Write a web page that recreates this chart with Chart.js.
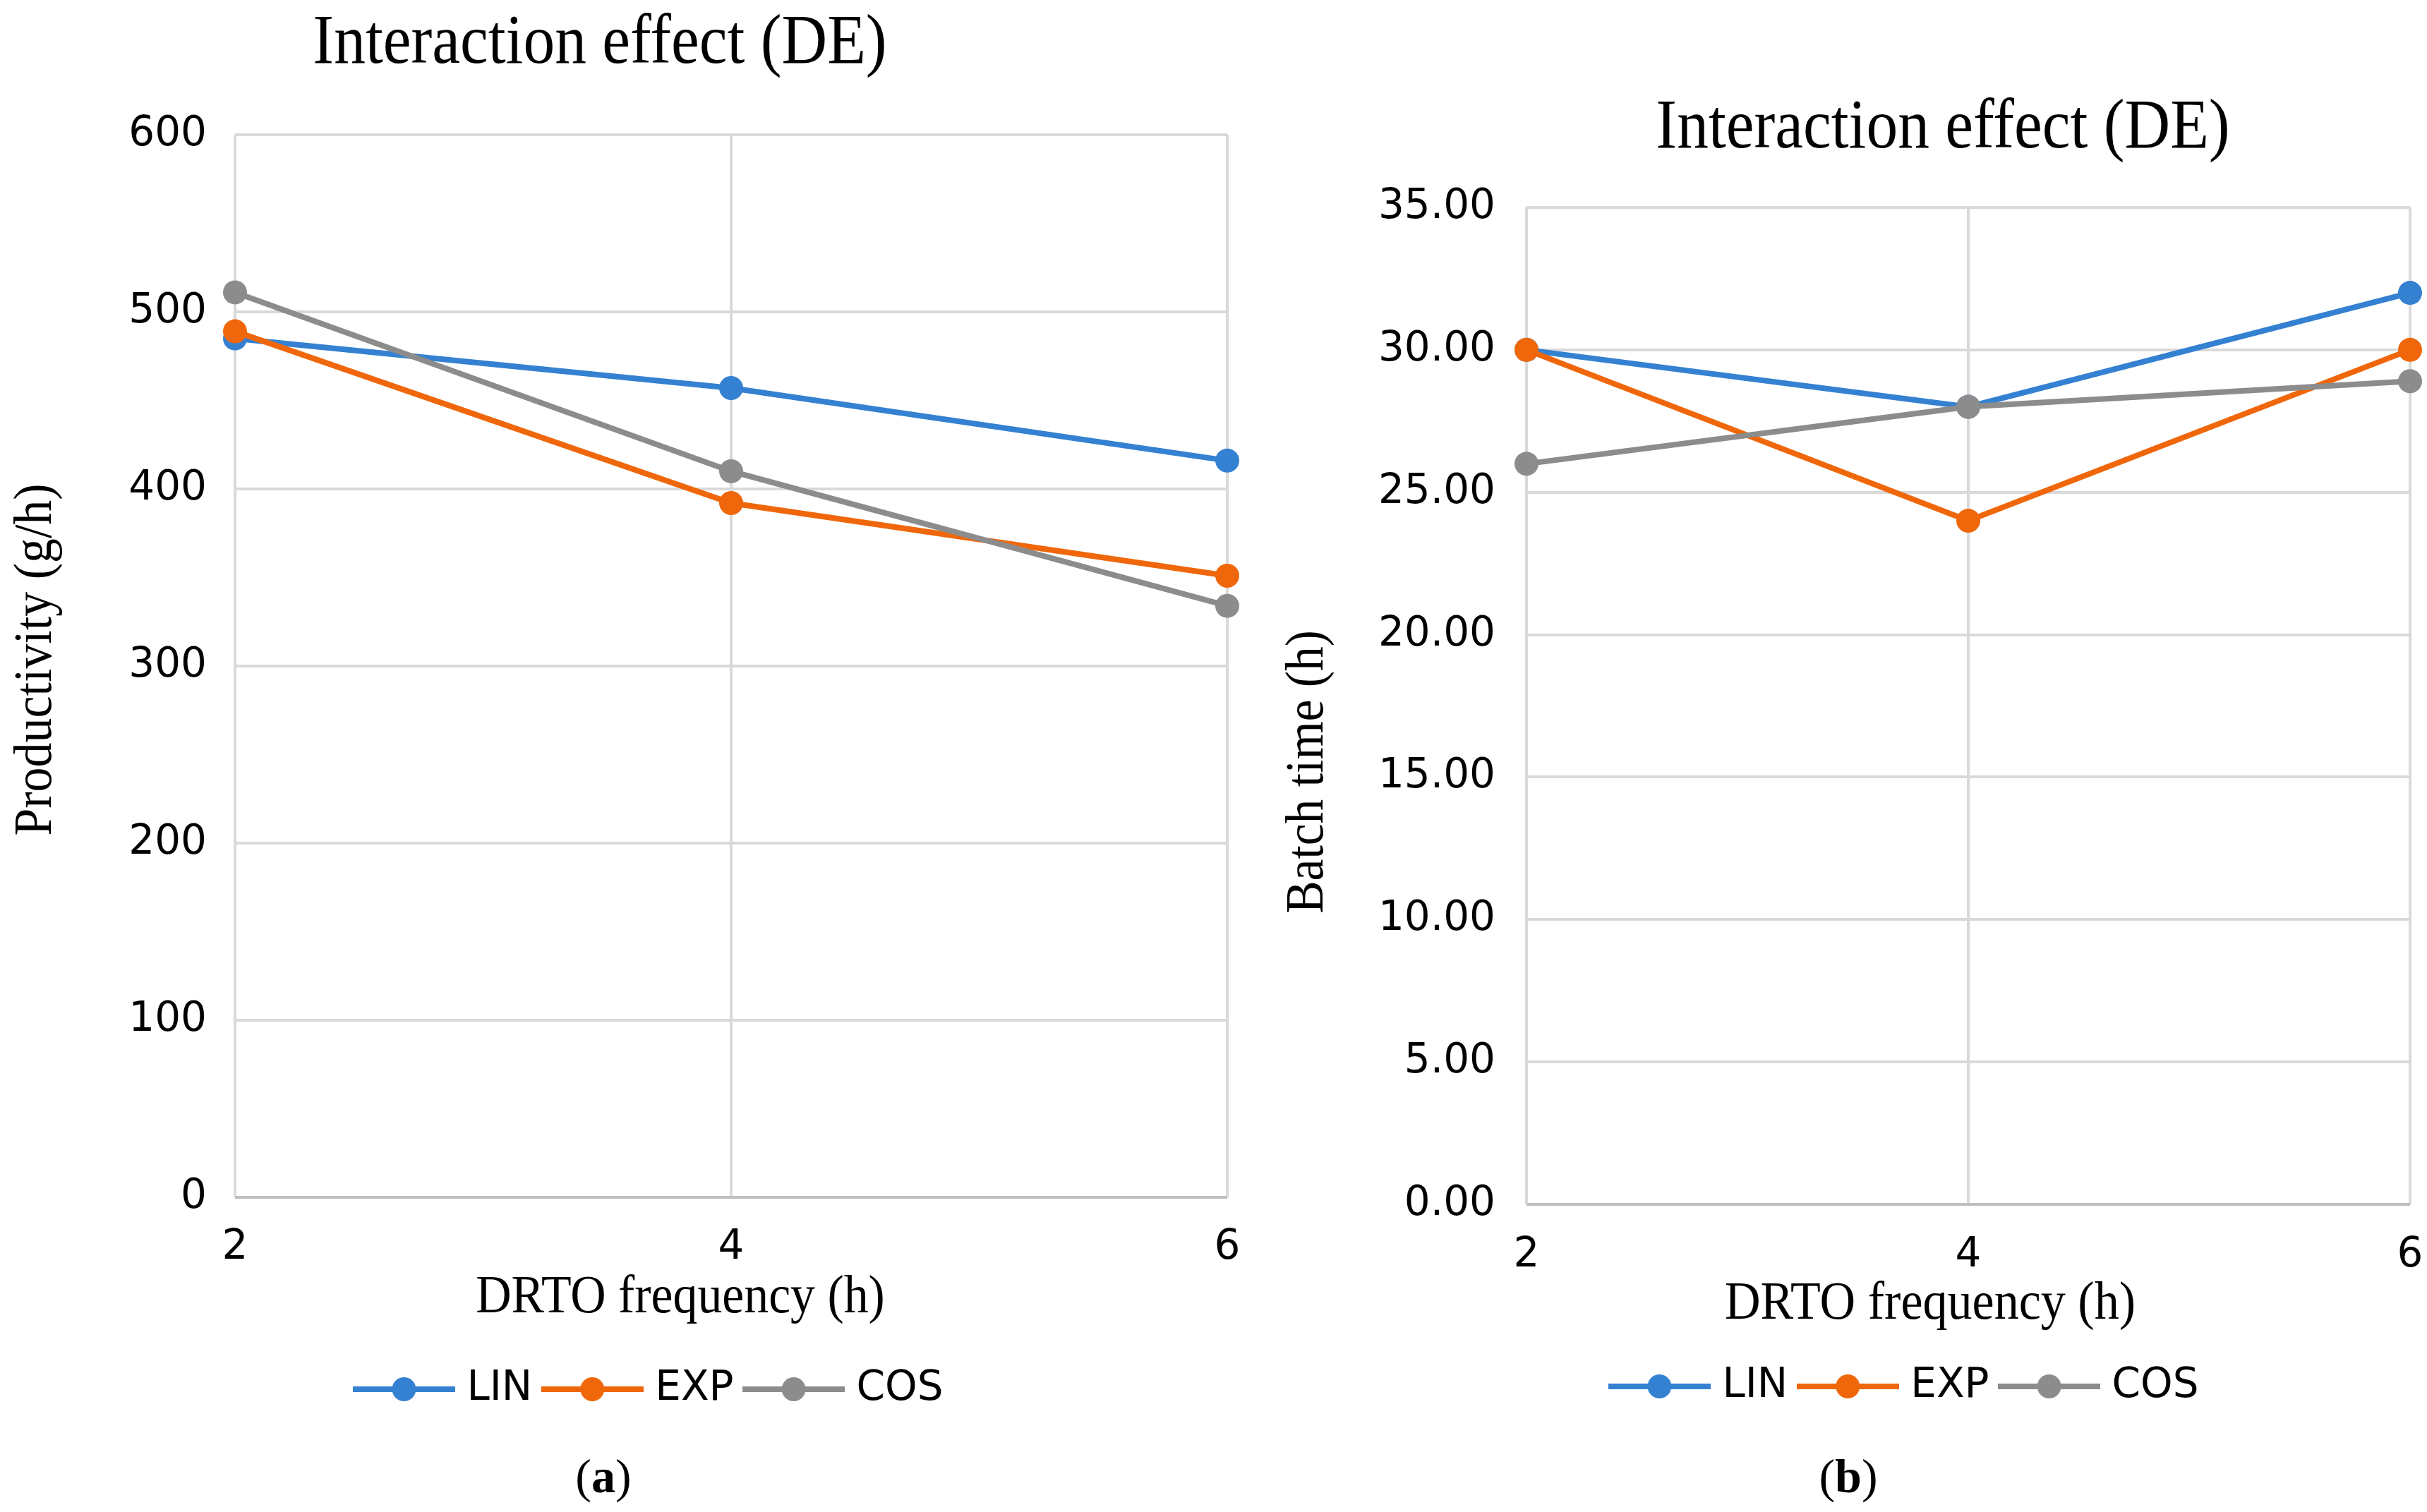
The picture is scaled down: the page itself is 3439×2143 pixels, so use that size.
<!DOCTYPE html>
<html>
<head>
<meta charset="utf-8">
<script src="https://cdn.jsdelivr.net/npm/chart.js@4/dist/chart.umd.min.js"></script>
<style>
    html, body { margin: 0; padding: 0; background: #fff; overflow: hidden; }
    body { width: 3439px; height: 2143px; position: relative; }
    canvas { position: absolute; top: 0; }
    #chartA { left: 0; }
    #chartB { left: 1780px; }
</style>
</head>
<body>
<canvas id="chartA" width="1780" height="2143"></canvas>
<canvas id="chartB" width="1659" height="2143"></canvas>
<script>
// ---- data ----
const xLabels = ['2', '4', '6'];
const seriesNames = ['LIN', 'EXP', 'COS'];
const seriesColors = ['#3481D2', '#EF670A', '#8C8C8C'];

// (a) productivity, g/h
const prodLIN = [485, 457, 416];
const prodEXP = [489, 392, 351];
const prodCOS = [511, 410, 334];
const prodMin = 0, prodMax = 600, prodStep = 100;

// (b) batch time, h
const batchLIN = [30, 28, 32];
const batchEXP = [30, 24, 30];
const batchCOS = [26, 28, 28.9];
const batchMin = 0, batchMax = 35, batchStep = 5;

const tickFont = { family: 'DejaVu Sans', size: 58 };
const serif = 'Liberation Serif';

// line + dot swatch used as legend marker
function legendSwatch(color) {
    const c = document.createElement('canvas');
    c.width = 145; c.height = 40;
    const g = c.getContext('2d');
    g.strokeStyle = color; g.lineWidth = 8;
    g.beginPath(); g.moveTo(0, 20); g.lineTo(145, 20); g.stroke();
    g.fillStyle = color;
    g.beginPath(); g.arc(72.5, 20, 17, 0, Math.PI * 2); g.fill();
    return c;
}
const swatches = seriesColors.map(legendSwatch);

// free text (titles, axis titles, captions) drawn on the chart canvas
const freeText = {
    id: 'freeText',
    afterLayout(chart, args, opts) {
        // legend is centred on the padded width; nudge it to where the figure has it
        if (chart.legend && opts.legendShift) {
            chart.legend.left += opts.legendShift;
            chart.legend.right += opts.legendShift;
        }
    },
    afterDraw(chart, args, opts) {
        const ctx = chart.ctx;
        (opts.items || []).forEach(it => {
            const parts = it.parts || [{ text: it.text, bold: false }];
            ctx.save();
            ctx.translate(it.x, it.y);
            if (it.rotate) ctx.rotate(it.rotate);
            ctx.scale(it.sx || 1, 1);
            ctx.fillStyle = '#000';
            ctx.textBaseline = it.baseline || 'alphabetic';
            ctx.textAlign = 'left';
            let total = 0;
            parts.forEach(p => {
                ctx.font = (p.bold ? 'bold ' : '') + it.size + 'px "' + serif + '"';
                p.w = ctx.measureText(p.text).width;
                total += p.w;
            });
            let x = -total / 2;
            parts.forEach(p => {
                ctx.font = (p.bold ? 'bold ' : '') + it.size + 'px "' + serif + '"';
                ctx.fillText(p.text, x, 0);
                x += p.w;
            });
            ctx.restore();
        });
    }
};

function makeDatasets(values) {
    return values.map((v, i) => ({
        label: seriesNames[i],
        data: v,
        borderColor: seriesColors[i],
        backgroundColor: seriesColors[i],
        pointBackgroundColor: seriesColors[i],
        pointBorderWidth: 0,
        pointRadius: 17,
        borderWidth: 8,
        tension: 0,
        clip: false,
        order: values.length - 1 - i
    }));
}

function makeChart(id, cfg) {
    return new Chart(document.getElementById(id), {
        type: 'line',
        data: { labels: xLabels, datasets: makeDatasets(cfg.values) },
        options: {
            responsive: false,
            animation: false,
            devicePixelRatio: 1,
            layout: { autoPadding: false, padding: cfg.padding },
            plugins: {
                title: { display: false },
                tooltip: { enabled: false },
                legend: {
                    position: 'bottom',
                    labels: {
                        usePointStyle: true,
                        pointStyleWidth: 120,
                        padding: 25,
                        color: '#000',
                        font: tickFont,
                        generateLabels: chart => chart.data.datasets.map((ds, i) => ({
                            text: ds.label,
                            pointStyle: swatches[i],
                            fillStyle: ds.borderColor,
                            strokeStyle: ds.borderColor,
                            lineWidth: 0,
                            hidden: false,
                            fontColor: '#000',
                            datasetIndex: i
                        }))
                    }
                },
                freeText: { items: cfg.texts, legendShift: cfg.legendShift }
            },
            scales: {
                x: {
                    type: 'category',
                    offset: false,
                    border: { display: false },
                    grid: { color: '#D9D9D9', lineWidth: 4, drawTicks: false },
                    // padding 0 keeps the last label from eating the right margin; lineHeight drops the text
                    ticks: { color: '#000', font: { family: 'DejaVu Sans', size: 58, lineHeight: cfg.xLine }, padding: 0, maxRotation: 0 },
                    afterFit: s => { s.height = cfg.xHeight; }
                },
                y: {
                    min: cfg.min, max: cfg.max,
                    border: { display: false },
                    grid: {
                        lineWidth: 4, drawTicks: false,
                        color: c => (c.tick && c.tick.value === 0 ? '#BFBFBF' : '#D9D9D9')
                    },
                    ticks: { stepSize: cfg.step, color: '#000', font: tickFont, padding: cfg.yPad, callback: cfg.fmt },
                    afterFit: s => { s.width = cfg.yWidth; }
                }
            }
        },
        plugins: [freeText]
    });
}

makeChart('chartA', {
    values: [prodLIN, prodEXP, prodCOS],
    min: prodMin, max: prodMax, step: prodStep,
    fmt: v => String(v),
    padding: { top: 191, left: 100, right: 41, bottom: 135 },
    yWidth: 233, xHeight: 218, yPad: 40, xLine: 2.48,
    legendShift: 5,
    texts: [
        { text: 'Interaction effect (DE)', x: 850, y: 89, size: 100, sx: 0.895 },
        { text: 'DRTO frequency (h)', x: 964, y: 1860, size: 77, sx: 0.906 },
        { text: 'Productivity (g/h)', x: 52, y: 935, size: 76, sx: 0.92, rotate: -Math.PI / 2, baseline: 'middle' },
        { parts: [{ text: '(' }, { text: 'a', bold: true }, { text: ')' }], x: 855, y: 2115, size: 68 }
    ]
});

makeChart('chartB', {
    values: [batchLIN, batchEXP, batchCOS],
    min: batchMin, max: batchMax, step: batchStep,
    fmt: v => Number(v).toFixed(2),
    padding: { top: 294, left: 0, right: 24, bottom: 139 },
    yWidth: 383, xHeight: 204, yPad: 44, xLine: 2.52,
    legendShift: 106,
    texts: [
        { text: 'Interaction effect (DE)', x: 973, y: 209, size: 100, sx: 0.895 },
        { text: 'DRTO frequency (h)', x: 955, y: 1869, size: 77, sx: 0.91 },
        { text: 'Batch time (h)', x: 74, y: 1094, size: 76, sx: 0.915, rotate: -Math.PI / 2, baseline: 'middle' },
        { parts: [{ text: '(' }, { text: 'b', bold: true }, { text: ')' }], x: 839, y: 2115, size: 68 }
    ]
});
</script>
</body>
</html>
